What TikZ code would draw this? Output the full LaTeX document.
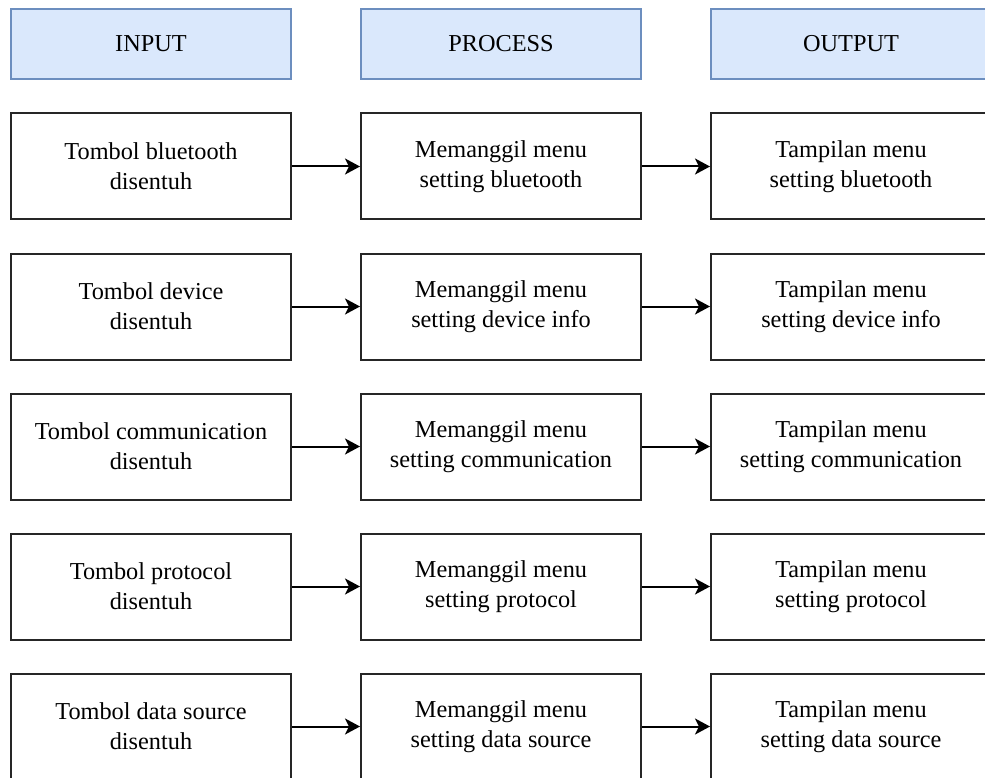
\documentclass[tikz,border=0pt]{standalone}
\usepackage{fontspec}
\setmainfont{Liberation Serif}
\usetikzlibrary{arrows.meta}
\definecolor{hdrfill}{HTML}{DAE8FC}
\definecolor{hdrline}{HTML}{6C8EBF}
\begin{document}
\begin{tikzpicture}[x=1pt,y=-1pt,
  box/.style={draw=black!85, line width=2pt, fill=white, minimum width=280pt, minimum height=106pt,
    inner sep=0pt, align=center, font=\fontsize{24.3}{30}\selectfont, anchor=north west},
  hdr/.style={box, draw=hdrline, fill=hdrfill, minimum height=70pt},
  link/.style={line width=2pt, draw=black, -{Stealth[length=15pt,width=16pt,inset=4pt]}}]
\useasboundingbox (0,0) rectangle (985,778);
\clip (0,0) rectangle (985,778);
% column headers
\node[hdr] (hin)  at (10,8)  {INPUT};
\node[hdr] (hpro) at (360,8) {PROCESS};
\node[hdr] (hout) at (710,8) {OUTPUT};
% rows
\foreach \i/\inp/\pro/\out in {
  1/{Tombol bluetooth\\disentuh}/{Memanggil menu\\setting bluetooth}/{Tampilan menu\\setting bluetooth},
  2/{Tombol device\\disentuh}/{Memanggil menu\\setting device info}/{Tampilan menu\\setting device info},
  3/{Tombol communication\\disentuh}/{Memanggil menu\\setting communication}/{Tampilan menu\\setting communication},
  4/{Tombol protocol\\disentuh}/{Memanggil menu\\setting protocol}/{Tampilan menu\\setting protocol},
  5/{Tombol data source\\disentuh}/{Memanggil menu\\setting data source}/{Tampilan menu\\setting data source}}{
  \pgfmathsetmacro{\ytop}{112.5+(\i-1)*140}
  \node[box] (in\i)  at (10,\ytop)  {\inp};
  \node[box] (pro\i) at (360,\ytop) {\pro};
  \node[box] (out\i) at (710,\ytop) {\out};
  \draw[link] (in\i.east) -- (pro\i.west);
  \draw[link] (pro\i.east) -- (out\i.west);
}
\end{tikzpicture}
\end{document}
